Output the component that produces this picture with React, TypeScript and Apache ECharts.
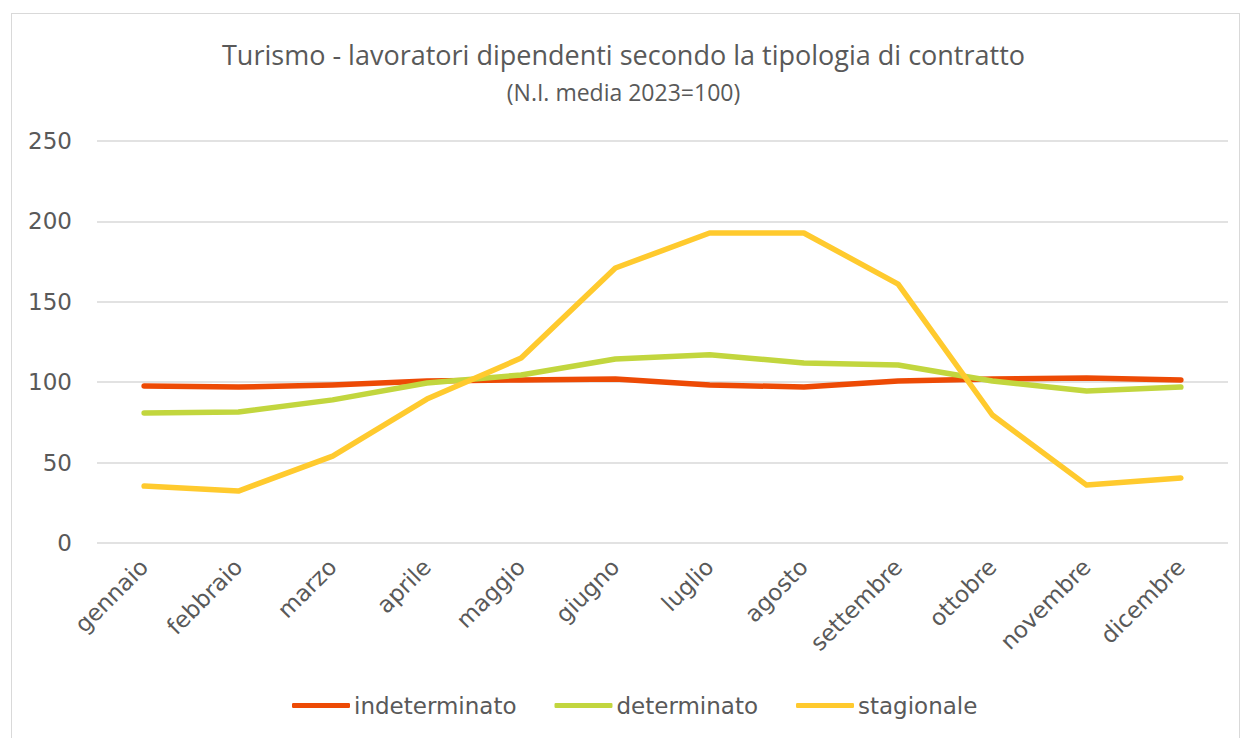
import React, { useEffect, useRef } from "react";
import * as echarts from "echarts";

const months = ["gennaio", "febbraio", "marzo", "aprile", "maggio", "giugno", "luglio", "agosto", "settembre", "ottobre", "novembre", "dicembre"];
const indeterminato = [97.6, 97.0, 98.3, 100.7, 101.4, 102.0, 98.3, 97.0, 100.7, 102.0, 102.6, 101.4];
const determinato = [80.8, 81.5, 89.0, 99.5, 104.5, 114.4, 117.0, 112.0, 110.7, 100.7, 94.5, 97.0];
const stagionale = [35.4, 32.3, 54.0, 89.5, 115.0, 171.0, 192.8, 192.8, 161.0, 79.6, 36.0, 40.4];
const yTicks = [0, 50, 100, 150, 200, 250];

const TXT = "#595959";
const AXIS_FONT = "'DejaVu Sans', Verdana, sans-serif";
const TITLE_FONT = "'Open Sans', sans-serif";

export default function App() {
  const ref = useRef<HTMLDivElement>(null);
  useEffect(() => {
    if (!ref.current) return;
    const chart = echarts.init(ref.current, undefined, { renderer: "svg" });
    const mk = (name: string, data: number[], color: string) => ({
      name,
      type: "line",
      data,
      symbol: "none",
      lineStyle: { color, width: 5.5, cap: "round", join: "round" },
      itemStyle: { color },
    });
    chart.setOption({
      animation: false,
      title: {
        text: "Turismo - lavoratori dipendenti secondo la tipologia di contratto",
        subtext: "(N.I. media 2023=100)",
        left: "center",
        top: 36,
        itemGap: 12,
        textStyle: { color: TXT, fontSize: 27, fontWeight: "normal", fontFamily: TITLE_FONT },
        subtextStyle: { color: TXT, fontSize: 23, fontFamily: TITLE_FONT },
      },
      grid: { left: 97, right: 19, top: 141, bottom: 195, containLabel: false },
      xAxis: {
        type: "category",
        data: months,
        boundaryGap: true,
        axisLine: { show: false },
        axisTick: { show: false },
        axisLabel: { rotate: 45, color: TXT, fontSize: 23, fontFamily: AXIS_FONT, margin: 20, interval: 0 },
      },
      yAxis: {
        type: "value",
        min: yTicks[0],
        max: yTicks[yTicks.length - 1],
        interval: 50,
        axisLine: { show: false },
        axisTick: { show: false },
        axisLabel: { color: TXT, fontSize: 23, fontFamily: AXIS_FONT, margin: 25 },
        splitLine: { lineStyle: { color: "#d9d9d9", width: 1.5 } },
      },
      legend: {
        bottom: 16,
        left: 287,
        icon: "roundRect",
        itemWidth: 58,
        itemHeight: 5,
        itemGap: 38,
        textStyle: { color: TXT, fontSize: 23, fontFamily: AXIS_FONT, padding: [0, 0, 0, -1] },
        data: ["indeterminato", "determinato", "stagionale"],
      },
      series: [
        mk("indeterminato", indeterminato, "#ED4A05"),
        mk("determinato", determinato, "#C2D63E"),
        mk("stagionale", stagionale, "#FFCA2E"),
      ],
    });
    return () => chart.dispose();
  }, []);
  return (
    <div style={{ position: "absolute", left: 0, top: 0, width: 1247, height: 738, background: "#fff", overflow: "hidden" }}>
      <div ref={ref} style={{ position: "absolute", left: 0, top: 0, width: 1247, height: 738 }} />
      <div style={{ position: "absolute", left: 11, top: 13, width: 1229, height: 740, border: "1px solid #d9d9d9", boxSizing: "border-box", pointerEvents: "none" }} />
    </div>
  );
}
